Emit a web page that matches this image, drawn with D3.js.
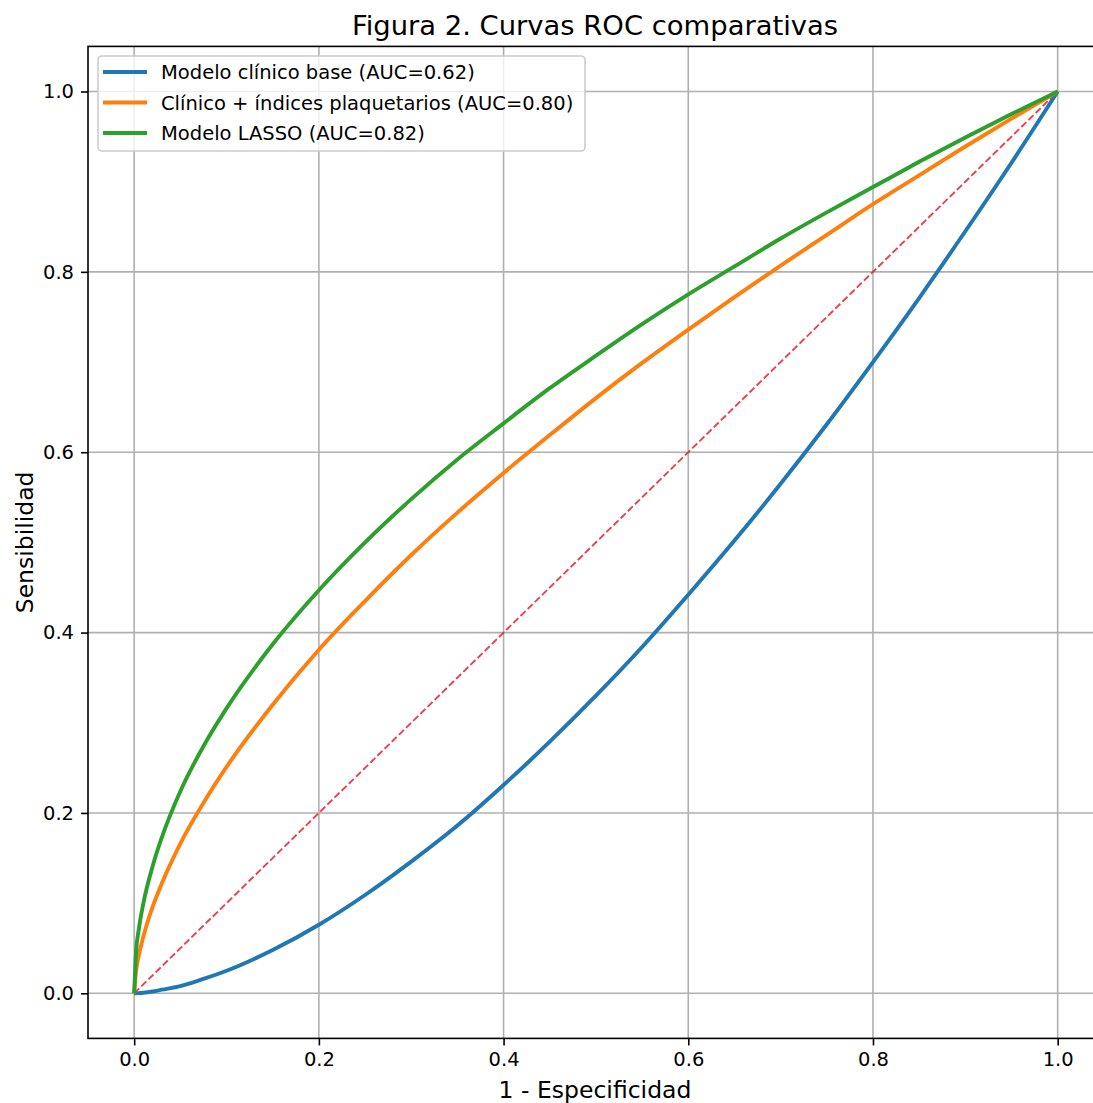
<!DOCTYPE html>
<html>
<head>
<meta charset="utf-8">
<script src="https://cdn.jsdelivr.net/npm/d3@7"></script>
<style>
  body { margin: 0; background: #fff; }
  text { font-family: "DejaVu Sans", sans-serif; fill: #000; }
</style>
</head>
<body>
<svg id="chart" width="1093" height="1103"></svg>
<script>
'use strict';

// false positive rate grid (1 - especificidad)
var fpr = [0, 0.002, 0.005, 0.01, 0.02, 0.03, 0.05, 0.075, 0.1, 0.15, 0.2, 0.25, 0.3, 0.35,
           0.4, 0.45, 0.5, 0.55, 0.6, 0.65, 0.7, 0.75, 0.8, 0.85, 0.9, 0.95, 1.0];

// sensibilidad
var tprBase  = [0, 0.00005, 0.0002, 0.0006, 0.002, 0.004, 0.008, 0.016, 0.025, 0.048, 0.076, 0.109, 0.146, 0.186,
                0.231, 0.279, 0.330, 0.384, 0.442, 0.502, 0.565, 0.631, 0.700, 0.771, 0.845, 0.921, 1.0];
var tprPlaq  = [0, 0.024, 0.042, 0.063, 0.096, 0.122, 0.166, 0.211, 0.251, 0.320, 0.381, 0.435, 0.486, 0.533,
                0.577, 0.619, 0.660, 0.699, 0.736, 0.772, 0.807, 0.841, 0.875, 0.907, 0.939, 0.970, 1.0];
var tprLasso = [0, 0.045, 0.071, 0.100, 0.141, 0.173, 0.224, 0.274, 0.316, 0.387, 0.447, 0.500, 0.548, 0.592,
                0.632, 0.671, 0.707, 0.742, 0.775, 0.806, 0.837, 0.866, 0.894, 0.922, 0.949, 0.975, 1.0];

var seriesNames = ['Modelo clínico base (AUC=0.62)',
                   'Clínico + índices plaquetarios (AUC=0.80)',
                   'Modelo LASSO (AUC=0.82)'];
var seriesColors = ['#1f77b4', '#ff7f0e', '#2ca02c'];
var ticks = [0, 0.2, 0.4, 0.6, 0.8, 1.0];

var svg = d3.select('#chart');

// plot area (x=0 at 133.5, x=1 at 1057; margins of 0.05 on each side)
var x = d3.scaleLinear().domain([-0.05, 1.05]).range([88, 88 + 1.1 * 923.5]);
var y = d3.scaleLinear().domain([-0.05, 1.05]).range([1038.4, 46.4]);

var pLeft = x.range()[0], pRight = x.range()[1];
var pTop = y.range()[1], pBottom = y.range()[0];

// grid
var grid = svg.append('g').attr('stroke', '#b0b0b0').attr('stroke-width', 1.6);
grid.selectAll('.gx').data(ticks).enter().append('line')
  .attr('x1', d => x(d)).attr('x2', d => x(d))
  .attr('y1', pTop).attr('y2', pBottom);
grid.selectAll('.gy').data(ticks).enter().append('line')
  .attr('x1', pLeft).attr('x2', pRight)
  .attr('y1', d => y(d)).attr('y2', d => y(d));

// diagonal reference
svg.append('line')
  .attr('x1', x(0)).attr('y1', y(0))
  .attr('x2', x(1)).attr('y2', y(1))
  .attr('stroke', '#e8202f').attr('stroke-opacity', 0.85)
  .attr('stroke-width', 1.9).attr('stroke-dasharray', '7,3');

// curves
var line = d3.line()
  .x((d, i) => x(fpr[i]))
  .y(d => y(d))
  .curve(d3.curveMonotoneX);

[tprBase, tprPlaq, tprLasso].forEach(function(s, k) {
  svg.append('path')
    .attr('d', line(s))
    .attr('fill', 'none')
    .attr('stroke', seriesColors[k])
    .attr('stroke-width', 3.9)
    .attr('stroke-linejoin', 'round');
});

// axes
var xAxis = svg.append('g')
  .attr('transform', 'translate(0,' + pBottom + ')')
  .call(d3.axisBottom(x).tickValues(ticks).tickFormat(d3.format('.1f')).tickSizeInner(7).tickSizeOuter(0).tickPadding(7));
var yAxis = svg.append('g')
  .attr('transform', 'translate(' + pLeft + ',0)')
  .call(d3.axisLeft(y).tickValues(ticks).tickFormat(d3.format('.1f')).tickSizeInner(7).tickSizeOuter(0).tickPadding(7));

[xAxis, yAxis].forEach(function(a) {
  a.select('.domain').remove();
  a.selectAll('.tick line').attr('stroke', '#000').attr('stroke-width', 1.6);
  a.selectAll('.tick text').attr('font-size', 19.5).attr('font-family', 'DejaVu Sans');
});

// frame
svg.append('rect')
  .attr('x', pLeft).attr('y', pTop)
  .attr('width', pRight - pLeft).attr('height', pBottom - pTop)
  .attr('fill', 'none').attr('stroke', '#000').attr('stroke-width', 1.6);

// labels
svg.append('text')
  .attr('x', 595).attr('y', 35)
  .attr('text-anchor', 'middle').attr('font-size', 27.4)
  .text('Figura 2. Curvas ROC comparativas');

svg.append('text')
  .attr('x', 595).attr('y', 1098)
  .attr('text-anchor', 'middle').attr('font-size', 23.5)
  .text('1 - Especificidad');

svg.append('text')
  .attr('transform', 'translate(33,' + ((pTop + pBottom) / 2) + ') rotate(-90)')
  .attr('text-anchor', 'middle').attr('font-size', 23.5)
  .text('Sensibilidad');

// legend
var lg = svg.append('g');
lg.append('rect')
  .attr('x', 98).attr('y', 56).attr('width', 487).attr('height', 95)
  .attr('rx', 4).attr('fill', '#fff').attr('fill-opacity', 0.8)
  .attr('stroke', '#cccccc').attr('stroke-width', 1.6);

var items = lg.selectAll('.item').data(seriesNames).enter().append('g')
  .attr('transform', (d, i) => 'translate(0,' + (72 + i * 30.5) + ')');
items.append('line')
  .attr('x1', 103).attr('x2', 147)
  .attr('stroke', (d, i) => seriesColors[i]).attr('stroke-width', 3.9);
items.append('text')
  .attr('x', 161).attr('y', 7)
  .attr('font-size', 19.5)
  .text(d => d);
</script>
</body>
</html>
